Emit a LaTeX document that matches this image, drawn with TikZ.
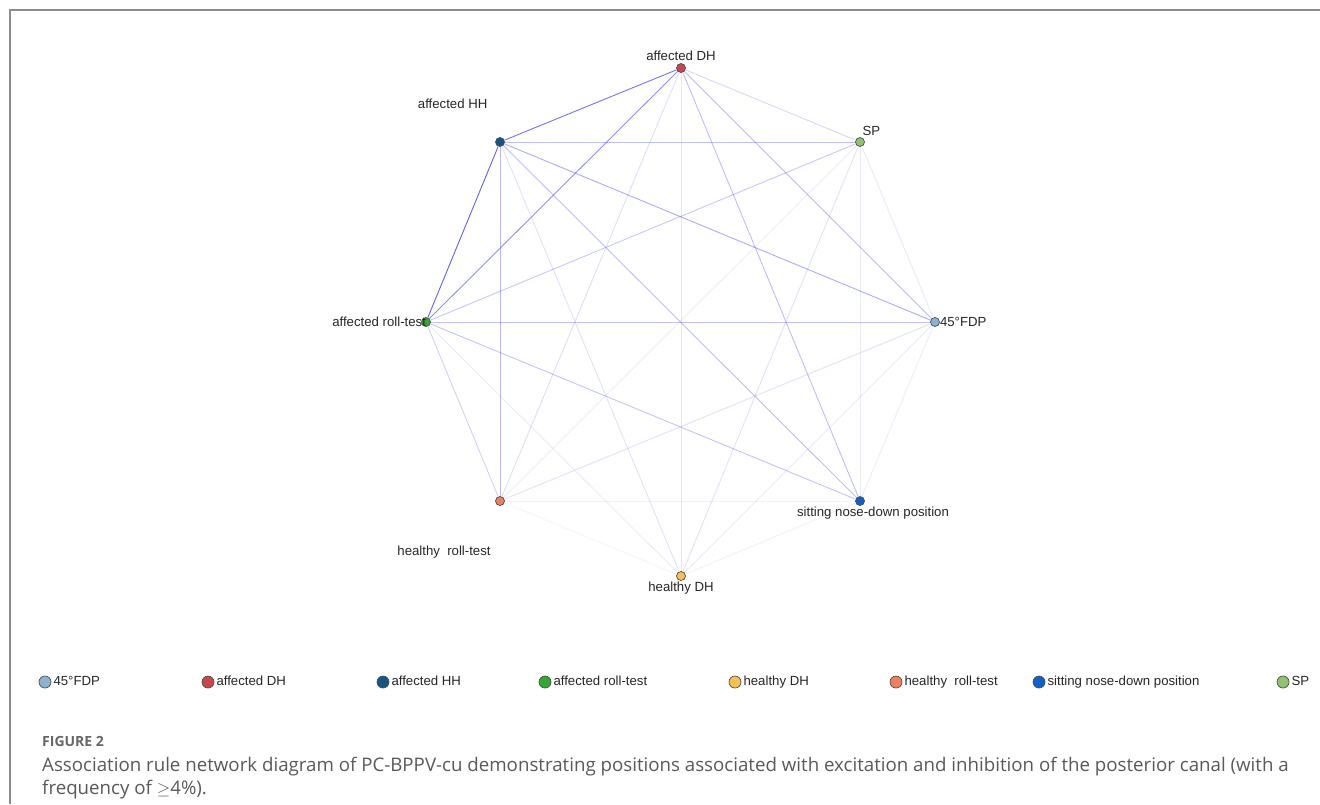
\documentclass[tikz,border=0pt]{standalone}
\usepackage{fontspec}
\setmainfont{Liberation Sans}
\newfontfamily\capfont{Open Sans}
\usetikzlibrary{positioning}
\definecolor{linkblue}{RGB}{70,70,235}
\definecolor{cFDP}{RGB}{140,180,206}
\definecolor{cADH}{RGB}{200,70,78}
\definecolor{cAHH}{RGB}{22,84,134}
\definecolor{cART}{RGB}{52,168,50}
\definecolor{cHDH}{RGB}{246,192,82}
\definecolor{cHRT}{RGB}{238,128,98}
\definecolor{cSND}{RGB}{16,96,200}
\definecolor{cSP}{RGB}{146,194,112}
\tikzset{
  every picture/.style={font={\fontsize{13.2}{15}\selectfont}},
  every label/.style={inner sep=1pt, text=black!85}}

\begin{document}
\begin{tikzpicture}[x=1pt, y=-1pt,
    item/.style={draw=black!70, circle, inner sep=0pt, minimum size=9pt, line width=0.7pt, fill=#1},
    key/.style={draw=black!70, circle, inner sep=0pt, minimum size=12pt, line width=0.7pt, fill=#1},
    keytext/.style={font={\fontsize{13.2}{15}\selectfont}, text=black!85, inner sep=1pt,
      text height=1.6ex, text depth=0.4ex},
    link/.style={draw=linkblue, line width=0.9pt, draw opacity=#1}]

    \useasboundingbox (0,0) rectangle (1320,804);
    \draw[black!45, line width=2pt] (10,804) -- (10,10) -- (1320,10);

    % network
    \node[item=cADH] (ADH) at (681,68) [label={[label distance=1pt]above:affected DH}] {};
    \node[item=cAHH] (AHH) at (500,142) [label={[xshift=-8pt, yshift=29pt]above left:affected HH}] {};
    \node[item=cSP] (SP) at (860,142) [label={[xshift=-2pt, yshift=2pt]above right:SP}] {};
    \node[item=cART] (ART) at (426,322) [label={[label distance=-6pt]left:affected roll-test}] {};
    \node[item=cFDP] (FDP) at (935,322) [label={[label distance=-1pt]right:45°FDP}] {};
    \node[item=cHRT] (HRT) at (500,501) [label={[label distance=39pt, xshift=-56pt]below:healthy~~roll-test}] {};
    \node[item=cSND] (SND) at (860,501) [label={[label distance=0pt, xshift=13pt]below:sitting nose-down position}] {};
    \node[item=cHDH] (HDH) at (681,576) [label={[label distance=0pt]below:healthy DH}] {};

    \path (ADH) edge[link=0.75] (AHH) edge[link=0.6] (ART) edge[link=0.22] (SP)
                edge[link=0.38] (FDP) edge[link=0.35] (SND) edge[link=0.14] (HDH)
                edge[link=0.18] (HRT);
    \path (AHH) edge[link=0.85] (ART) edge[link=0.35] (SP) edge[link=0.45] (FDP)
                edge[link=0.35] (SND) edge[link=0.38] (HRT) edge[link=0.16] (HDH);
    \path (SP)  edge[link=0.3] (ART) edge[link=0.12] (FDP) edge[link=0.12] (SND)
                edge[link=0.1] (HRT) edge[link=0.16] (HDH);
    \path (ART) edge[link=0.32] (FDP) edge[link=0.32] (SND) edge[link=0.25] (HRT)
                edge[link=0.12] (HDH);
    \path (FDP) edge[link=0.1] (SND) edge[link=0.16] (HRT) edge[link=0.12] (HDH);
    \path (SND) edge[link=0.08] (HRT) edge[link=0.08] (HDH);
    \path (HRT) edge[link=0.06] (HDH);

    % legend
    \node[key=cFDP] (kFDP) at (45,682) {};
    \node[keytext, right=1pt of kFDP] (tFDP) {45°FDP};
    \node[key=cADH] (kADH) at (208,682) {};
    \node[keytext, right=1pt of kADH] (tADH) {affected DH};
    \node[key=cAHH] (kAHH) at (383,682) {};
    \node[keytext, right=1pt of kAHH] (tAHH) {affected HH};
    \node[key=cART] (kART) at (545,682) {};
    \node[keytext, right=1pt of kART] (tART) {affected roll-test};
    \node[key=cHDH] (kHDH) at (735,682) {};
    \node[keytext, right=1pt of kHDH] (tHDH) {healthy DH};
    \node[key=cHRT] (kHRT) at (896,682) {};
    \node[keytext, right=1pt of kHRT] (tHRT) {healthy~~roll-test};
    \node[key=cSND] (kSND) at (1039,682) {};
    \node[keytext, right=1pt of kSND] (tSND) {sitting nose-down position};
    \node[key=cSP] (kSP) at (1283,682) {};
    \node[keytext, right=1pt of kSP] (tSP) {SP};

    % caption
    \node[anchor=base west, inner sep=0pt, text=black!60, font={\capfont\fontsize{14}{16}\selectfont\bfseries}]
      (fig) at (42,746) {FIGURE 2};
    \node[anchor=base west, inner sep=0pt, text=black!65, font={\capfont\fontsize{18.7}{22}\selectfont}]
      (capA) at (42,771) {Association rule network diagram of PC-BPPV-cu demonstrating positions associated with excitation and inhibition of the posterior canal (with a};
    \node[anchor=base west, inner sep=0pt, text=black!65, font={\capfont\fontsize{18.7}{22}\selectfont}]
      (capB) at (42,794) {frequency of $\geq$4\%).};
  \end{tikzpicture}
\end{document}
